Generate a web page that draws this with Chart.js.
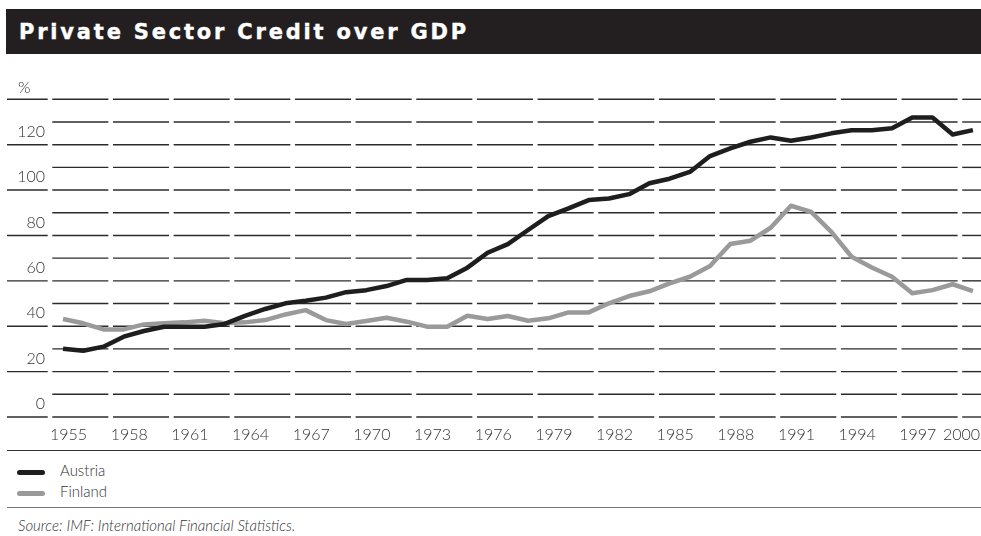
<!DOCTYPE html>
<html>
<head>
<meta charset="utf-8">
<script src="https://cdn.jsdelivr.net/npm/chart.js@4"></script>
<style>
  body { margin: 0; background: #fff; width: 981px; height: 536px; overflow: hidden; position: relative; font-family: Lato, sans-serif; }
  #title { position: absolute; left: 6px; top: 9px; width: 975px; height: 45px; background: #231f20; color: #fff;
           font: bold 21px "DejaVu Sans"; letter-spacing: 2.8px; line-height: 46px; padding-left: 13px; box-sizing: border-box;
           -webkit-text-stroke: 0.4px #fff; }
  #chartBox { position: absolute; left: 0; top: 60px; width: 981px; height: 400px; }
  .rule { position: absolute; left: 7px; width: 974px; height: 0; }
  .legend { position: absolute; left: 17px; font: 300 15px Lato; color: #333; }
  .legend span { display: inline-block; width: 28px; height: 5px; border-radius: 3px; vertical-align: middle; margin-right: 15px; }
  #source { position: absolute; left: 18px; top: 516px; font: italic 300 15px Lato; color: #333; }
</style>
</head>
<body>
<div id="title">Private Sector Credit over GDP</div>
<div id="chartBox"><canvas id="credit" width="981" height="400"></canvas></div>
<div class="rule" style="top:450px; border-top:1.5px solid #333;"></div>
<div class="legend" style="top:461px;"><span style="background:#1e1e1e"></span>Austria</div>
<div class="legend" style="top:482px;"><span style="background:#9a9a9a"></span>Finland</div>
<div class="rule" style="top:507px; border-top:1.5px solid #777;"></div>
<div id="source">Source: IMF: International Financial Statistics.</div>
<script>
const years = [1955, 1956, 1957, 1958, 1959, 1960, 1961, 1962, 1963, 1964,
               1965, 1966, 1967, 1968, 1969, 1970, 1971, 1972, 1973, 1974,
               1975, 1976, 1977, 1978, 1979, 1980, 1981, 1982, 1983, 1984,
               1985, 1986, 1987, 1988, 1989, 1990, 1991, 1992, 1993, 1994,
               1995, 1996, 1997, 1998, 1999, 2000];

const austria = [30.1, 29.2, 31, 35.4, 37.9, 39.8, 39.8, 39.8, 41, 44.6,
                 47.6, 50.1, 51.2, 52.6, 55, 55.9, 57.7, 60.4, 60.4, 61.1,
                 65.8, 72.4, 76.2, 82.4, 88.5, 91.9, 95.6, 96.3, 98.2, 103,
                 105, 108, 115, 118.4, 121.3, 123.2, 121.7, 123.2, 125, 126.4,
                 126.4, 127.2, 132, 132, 124.5, 126.4];

const finland = [43.2, 41.3, 38.6, 38.6, 40.8, 41.3, 41.7, 42.4, 41.3, 41.7,
                 42.7, 45.2, 47.1, 42.7, 41, 42.3, 43.7, 42, 39.8, 39.8,
                 44.6, 43.2, 44.5, 42.4, 43.5, 46.1, 46.1, 50.1, 53.3, 55.4,
                 58.9, 61.8, 66.5, 76.2, 77.7, 83.4, 93.1, 90.4, 81.6, 70.6,
                 65.9, 61.8, 54.5, 55.9, 58.5, 55.5];

const tickYears = [1955, 1958, 1961, 1964, 1967, 1970, 1973, 1976, 1979, 1982, 1985, 1988, 1991, 1994, 1997, 2000];
const yLabels = [0, 20, 40, 60, 80, 100, 120];

// horizontal rules broken at each year tick, plus the axis text
const segmentedGrid = {
  id: 'segmentedGrid',
  beforeDatasetsDraw(chart) {
    const {ctx, chartArea, scales: {x, y}} = chart;
    const gaps = tickYears.map(t => x.getPixelForValue(t) - 13);
    ctx.save();
    ctx.strokeStyle = '#2b2b2b';
    ctx.lineWidth = 1.4;
    for (let v = 0; v <= 140; v += 10) {
      const py = y.getPixelForValue(v);
      const starts = [chartArea.left].concat(gaps.map(g => g + 2.3));
      const ends = gaps.map(g => g - 2.3).concat([chartArea.right]);
      for (let i = 0; i < starts.length; i++) {
        if (i === 0 && v % 20 !== 0) continue;
        ctx.beginPath();
        ctx.moveTo(starts[i], py);
        ctx.lineTo(ends[i], py);
        ctx.stroke();
      }
    }

    ctx.fillStyle = '#333';
    ctx.font = '300 16px Lato';
    ctx.textBaseline = 'middle';
    ctx.textAlign = 'right';
    yLabels.forEach(v => ctx.fillText(String(v), 45, y.getPixelForValue(v) - 13));
    ctx.textAlign = 'left';
    ctx.fillText('%', 18, y.getPixelForValue(140) - 11);

    tickYears.forEach((t, i) => {
      const g = gaps[i];
      const label = String(t);
      if (i === tickYears.length - 1) {
        ctx.textAlign = 'right';
        ctx.fillText(label, chartArea.right - 1, chartArea.bottom + 18);
      } else {
        ctx.textAlign = 'left';
        ctx.fillText(label, g, chartArea.bottom + 18);
      }
    });
    ctx.restore();
  }
};

new Chart(document.getElementById('credit'), {
  type: 'line',
  data: {
    datasets: [{
      label: 'Austria',
      data: years.map((yr, i) => ({x: yr, y: austria[i]})),
      borderColor: '#1e1e1e',
      borderWidth: 4.5
    }, {
      label: 'Finland',
      data: years.map((yr, i) => ({x: yr, y: finland[i]})),
      borderColor: '#9a9a9a',
      borderWidth: 4.5
    }]
  },
  options: {
    responsive: false,
    animation: false,
    layout: { padding: { left: 7, right: 0, top: 39.3, bottom: 43 } },
    elements: { point: { radius: 0 }, line: { tension: 0, borderJoinStyle: 'round' } },
    plugins: { legend: { display: false }, tooltip: { enabled: false } },
    scales: {
      x: { type: 'linear', min: 1952.23, max: 2000.4, display: false },
      y: { min: 0, max: 140, display: false }
    }
  },
  plugins: [segmentedGrid]
});
</script>
</body>
</html>
